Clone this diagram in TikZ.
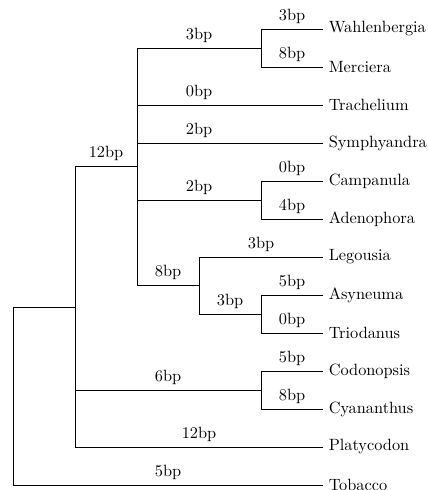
\documentclass[tikz,border=0pt]{standalone}
\begin{document}
\begin{tikzpicture}[x=0.6125pt,y=-0.6125pt,
  leaf/.style={anchor=west},
  br/.style={draw=black,line width=0.4pt},
  lbl/.style={above}]
\useasboundingbox (0,0) rectangle (428,490);
% leaves
\node[leaf] (W)  at (323,29)  {Wahlenbergia};
\node[leaf] (M)  at (323,67)  {Merciera};
\node[leaf] (Tr) at (323,105) {Trachelium};
\node[leaf] (Sy) at (323,143) {Symphyandra};
\node[leaf] (Ca) at (323,181) {Campanula};
\node[leaf] (Ad) at (323,219) {Adenophora};
\node[leaf] (Le) at (323,257) {Legousia};
\node[leaf] (As) at (323,295) {Asyneuma};
\node[leaf] (Ti) at (323,333) {Triodanus};
\node[leaf] (Co) at (323,371) {Codonopsis};
\node[leaf] (Cy) at (323,409) {Cyananthus};
\node[leaf] (Pl) at (323,447) {Platycodon};
\node[leaf] (To) at (323,485) {Tobacco};
% internal nodes
\coordinate (a) at (261,48);
\coordinate (b) at (261,200);
\coordinate (c) at (261,314);
\coordinate (d) at (199,285.5);
\coordinate (e) at (137,166.75);
\coordinate (f) at (261,390);
\coordinate (g) at (75,306.9);
\coordinate (r) at (13,396);
% branches
\draw[br] (a) |- (W.west) node[lbl,pos=0.75] (l1) {3bp};
\draw[br] (a) |- (M.west) node[lbl,pos=0.75] (l2) {8bp};
\draw[br] (b) |- (Ca.west) node[lbl,pos=0.75] (l3) {0bp};
\draw[br] (b) |- (Ad.west) node[lbl,pos=0.75] (l4) {4bp};
\draw[br] (c) |- (As.west) node[lbl,pos=0.75] (l5) {5bp};
\draw[br] (c) |- (Ti.west) node[lbl,pos=0.75] (l6) {0bp};
\draw[br] (f) |- (Co.west) node[lbl,pos=0.75] (l7) {5bp};
\draw[br] (f) |- (Cy.west) node[lbl,pos=0.75] (l8) {8bp};
\draw[br] (d) |- (Le.west) node[lbl,pos=0.75] (l9) {3bp};
\draw[br] (d) |- (c) node[lbl,pos=0.75] (l10) {3bp};
\draw[br] (e) |- (a) node[lbl,pos=0.75] (l11) {3bp};
\draw[br] (e) |- (Tr.west) node[lbl,pos=0.6667] (l12) {0bp};
\draw[br] (e) |- (Sy.west) node[lbl,pos=0.6667] (l13) {2bp};
\draw[br] (e) |- (b) node[lbl,pos=0.75] (l14) {2bp};
\draw[br] (e) |- (d) node[lbl,pos=0.75] (l15) {8bp};
\draw[br] (g) |- (e) node[lbl,pos=0.75] (l16) {12bp};
\draw[br] (g) |- (f) node[lbl,pos=0.75] (l17) {6bp};
\draw[br] (g) |- (Pl.west) node[lbl,pos=0.75] (l18) {12bp};
\draw[br] (r) |- (g);
\draw[br] (r) |- (To.west) node[lbl,pos=0.75] (l19) {5bp};
\end{tikzpicture}
\end{document}
